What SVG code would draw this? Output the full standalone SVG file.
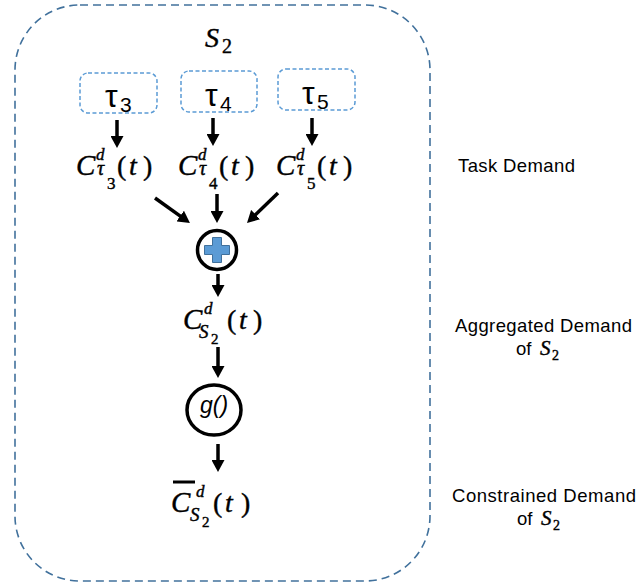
<svg xmlns="http://www.w3.org/2000/svg" width="638" height="588" viewBox="0 0 638 588">
  <style>
    .frame { fill: none; stroke: #41719c; stroke-width: 1.6; stroke-dasharray: 8 5; }
    .task { fill: #ffffff; stroke: #5b9bd5; stroke-width: 1.5; stroke-dasharray: 4 2.5; }
    .op { fill: #ffffff; stroke: #000000; stroke-width: 3.5; }
    .arrow { stroke: #000000; stroke-width: 3.5; fill: none; marker-end: url(#head); }
    .math { font-family: "Liberation Serif", "Times New Roman", serif; fill: #000; stroke: #000; stroke-width: 0.4; }
    .i { font-style: italic; }
    .tau { font-family: "Liberation Sans", Arial, sans-serif; fill: #000; }
    .lbl { font-family: "Liberation Sans", Arial, sans-serif; font-size: 18.5px; fill: #000; }
  </style>
  <defs>
    <marker id="head" viewBox="0 0 12 13" markerWidth="12" markerHeight="13" markerUnits="userSpaceOnUse" refX="1" refY="6.5" orient="auto">
      <path d="M0,0 L12,6.5 L0,13 Z" fill="#000"/>
    </marker>
  </defs>

  <!-- subsystem frame -->
  <g id="subsystem">
    <rect class="frame" x="15" y="5" width="415" height="576" rx="65" ry="65"/>
    <text class="math"><tspan class="i" x="205" y="47" font-size="28">S</tspan><tspan x="222" y="53" font-size="20">2</tspan></text>
  </g>

  <!-- tasks -->
  <g id="task-tau3">
    <rect class="task" x="80" y="73" width="77" height="40" rx="8"/>
    <text class="tau"><tspan x="105" y="107" font-size="32">τ</tspan><tspan x="120" y="112" font-size="21">3</tspan></text>
  </g>
  <g id="task-tau4">
    <rect class="task" x="181" y="71" width="76" height="41" rx="8"/>
    <text class="tau"><tspan x="205" y="106" font-size="32">τ</tspan><tspan x="220" y="111" font-size="21">4</tspan></text>
  </g>
  <g id="task-tau5">
    <rect class="task" x="278" y="69" width="77" height="41" rx="8"/>
    <text class="tau"><tspan x="302" y="104" font-size="32">τ</tspan><tspan x="317" y="109" font-size="21">5</tspan></text>
  </g>

  <!-- per-task demand curves -->
  <g id="demand-tau3">
    <text class="math"><tspan class="i" x="76" y="175" font-size="29">C</tspan><tspan class="i" x="96" y="160" font-size="17">d</tspan><tspan class="i" x="97" y="175" font-size="20">τ</tspan><tspan x="107" y="189" font-size="17">3</tspan><tspan x="117" y="175" font-size="28">(</tspan><tspan class="i" x="129" y="175" font-size="28">t</tspan><tspan x="143" y="175" font-size="28">)</tspan></text>
  </g>
  <g id="demand-tau4">
    <text class="math"><tspan class="i" x="178" y="175" font-size="29">C</tspan><tspan class="i" x="198" y="160" font-size="17">d</tspan><tspan class="i" x="199" y="175" font-size="20">τ</tspan><tspan x="209" y="189" font-size="17">4</tspan><tspan x="219" y="175" font-size="28">(</tspan><tspan class="i" x="231" y="175" font-size="28">t</tspan><tspan x="245" y="175" font-size="28">)</tspan></text>
  </g>
  <g id="demand-tau5">
    <text class="math"><tspan class="i" x="276" y="175" font-size="29">C</tspan><tspan class="i" x="296" y="160" font-size="17">d</tspan><tspan class="i" x="297" y="175" font-size="20">τ</tspan><tspan x="307" y="189" font-size="17">5</tspan><tspan x="317" y="175" font-size="28">(</tspan><tspan class="i" x="329" y="175" font-size="28">t</tspan><tspan x="343" y="175" font-size="28">)</tspan></text>
  </g>

  <!-- summation -->
  <g id="sum">
    <circle class="op" cx="217" cy="250" r="19.5"/>
    <path d="M212.5,237.5 H221.5 V245.5 H229.5 V254.5 H221.5 V262.5 H212.5 V254.5 H204.5 V245.5 H212.5 Z" fill="#5b9bd5" stroke="#41719c" stroke-width="1"/>
  </g>

  <!-- aggregated demand -->
  <g id="demand-s2">
    <text class="math"><tspan class="i" x="183" y="329" font-size="29">C</tspan><tspan class="i" x="204" y="314" font-size="17">d</tspan><tspan class="i" x="199" y="338" font-size="19">S</tspan><tspan x="211" y="344" font-size="15">2</tspan><tspan x="227" y="329" font-size="28">(</tspan><tspan class="i" x="239" y="329" font-size="28">t</tspan><tspan x="253" y="329" font-size="28">)</tspan></text>
  </g>

  <!-- constraint function -->
  <g id="constraint">
    <ellipse class="op" cx="214" cy="410" rx="27" ry="25"/>
    <text x="214" y="413" font-family="Liberation Sans, Arial, sans-serif" font-style="italic" font-size="23" text-anchor="middle">g()</text>
  </g>

  <!-- constrained demand -->
  <g id="demand-s2-constrained">
    <line x1="173" y1="482" x2="195" y2="482" stroke="#000" stroke-width="3"/>
    <text class="math"><tspan class="i" x="171" y="512" font-size="29">C</tspan><tspan class="i" x="196" y="497" font-size="17">d</tspan><tspan class="i" x="190" y="521" font-size="19">S</tspan><tspan x="202" y="527" font-size="15">2</tspan><tspan x="213" y="512" font-size="28">(</tspan><tspan class="i" x="225" y="512" font-size="28">t</tspan><tspan x="241" y="512" font-size="28">)</tspan></text>
  </g>

  <!-- side annotations -->
  <g id="labels">
    <text class="lbl" x="458" y="172" textLength="117">Task Demand</text>
    <text class="lbl" x="455" y="332" textLength="177">Aggregated Demand</text>
    <text><tspan class="lbl" x="516" y="355">of</tspan><tspan class="math i" x="540" y="355" font-size="21" stroke-width="0.2">S</tspan><tspan class="math" x="552" y="360" font-size="14" stroke-width="0.2">2</tspan></text>
    <text class="lbl" x="452" y="502" textLength="184">Constrained Demand</text>
    <text><tspan class="lbl" x="517" y="525">of</tspan><tspan class="math i" x="541" y="525" font-size="21" stroke-width="0.2">S</tspan><tspan class="math" x="553" y="530" font-size="14" stroke-width="0.2">2</tspan></text>
  </g>

  <!-- connectors -->
  <g id="connectors">
    <line class="arrow" x1="117" y1="120" x2="117" y2="137"/>
    <line class="arrow" x1="213" y1="118" x2="213" y2="135"/>
    <line class="arrow" x1="312" y1="118" x2="312" y2="135"/>
    <line class="arrow" x1="155" y1="198" x2="181" y2="216.6"/>
    <line class="arrow" x1="217" y1="194" x2="217" y2="212"/>
    <line class="arrow" x1="278" y1="193" x2="254.9" y2="215.3"/>
    <line class="arrow" x1="218" y1="274" x2="218" y2="286"/>
    <line class="arrow" x1="218" y1="347" x2="218" y2="367"/>
    <line class="arrow" x1="218" y1="444" x2="218" y2="461"/>
  </g>
</svg>
